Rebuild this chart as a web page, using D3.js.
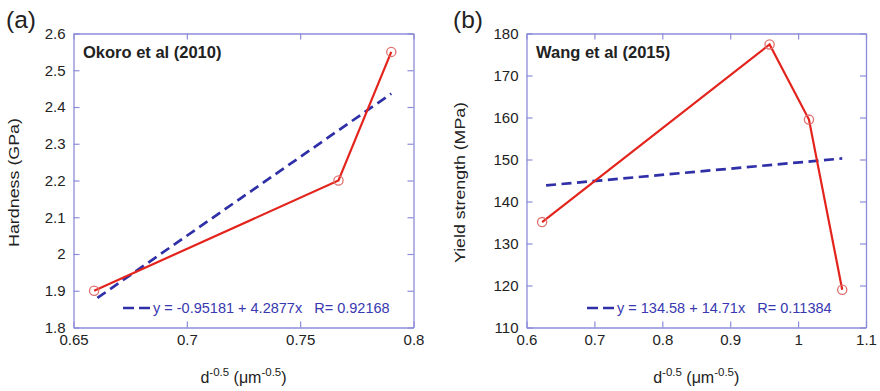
<!DOCTYPE html>
<html><head><meta charset="utf-8">
<script src="https://cdn.jsdelivr.net/npm/d3@7"></script>
<style>body{margin:0;background:#fff}svg{display:block}</style>
</head><body>
<svg id="c" width="880" height="391"></svg>
<script>
// Panel (a) data
const aX = [0.6591, 0.7669, 0.7902];
const aY = [1.90, 2.20, 2.55];
const aFit = [-0.95181, 4.2877];
const aXTicks = [0.65, 0.7, 0.75, 0.8];
const aYTicks = [1.8, 1.9, 2.0, 2.1, 2.2, 2.3, 2.4, 2.5, 2.6];
// Panel (b) data
const bX = [0.623, 0.958, 1.016, 1.065];
const bY = [135.1, 177.4, 159.5, 119.0];
const bFit = [134.58, 14.71];
const bXTicks = [0.6, 0.7, 0.8, 0.9, 1.0, 1.1];
const bYTicks = [110, 120, 130, 140, 150, 160, 170, 180];

const svg = d3.select("#c");
const AX = "#8c8cda", RED = "#e3241d", BLUE = "#2f2fa8", MK = "#e07070";
const FONT = "Liberation Sans, Arial, sans-serif";

function panel(o) {
  const g = svg.append("g");
  const x = d3.scaleLinear().domain(o.xd).range([o.l, o.r]);
  const y = d3.scaleLinear().domain(o.yd).range([o.b, o.t]);
  const tl = 6;
  const ax = [
    [d3.axisBottom(x).tickValues(o.xt).tickSizeInner(-tl).tickSizeOuter(0).tickFormat(o.xf), `translate(0,${o.b})`],
    [d3.axisTop(x).tickValues(o.xt).tickSizeInner(-tl).tickSizeOuter(0).tickFormat(""), `translate(0,${o.t})`],
    [d3.axisLeft(y).tickValues(o.yt).tickSizeInner(-tl).tickSizeOuter(0).tickFormat(o.yf), `translate(${o.l},0)`],
    [d3.axisRight(y).tickValues(o.yt).tickSizeInner(-tl).tickSizeOuter(0).tickFormat(""), `translate(${o.r},0)`]
  ];
  ax.forEach(([a, tr], i) => {
    const gg = g.append("g").attr("transform", tr).call(a);
    gg.select(".domain").attr("stroke", AX).attr("stroke-width", 1.3);
    gg.selectAll(".tick line").attr("stroke", AX).attr("stroke-width", 1.2);
    gg.selectAll(".tick text").attr("fill", "#222").attr("font-family", FONT).attr("font-size", 15);
    if (i === 0) gg.selectAll(".tick text").attr("dy", "0.95em").attr("y", 3);
    if (i === 2) gg.selectAll(".tick text").attr("x", -8);
  });
  // fit line
  const x0 = d3.min(o.xs), x1 = d3.max(o.xs);
  g.append("line")
    .attr("x1", x(x0)).attr("y1", y(o.fit[0] + o.fit[1] * x0))
    .attr("x2", x(x1)).attr("y2", y(o.fit[0] + o.fit[1] * x1))
    .attr("stroke", BLUE).attr("stroke-width", 2.7).attr("stroke-dasharray", "10,5.5").attr("stroke-dashoffset", -4);
  // data line
  const pts = o.xs.map((v, i) => [v, o.ys[i]]);
  g.append("path").attr("d", d3.line().x(d => x(d[0])).y(d => y(d[1]))(pts))
    .attr("fill", "none").attr("stroke", RED).attr("stroke-width", 2.2);
  g.selectAll("circle.m").data(pts).join("circle")
    .attr("cx", d => x(d[0])).attr("cy", d => y(d[1])).attr("r", 4.6)
    .attr("fill", "none").attr("stroke", MK).attr("stroke-width", 1.3);
  // legend
  g.append("line").attr("x1", o.lx).attr("x2", o.lx + 27).attr("y1", 308).attr("y2", 308)
    .attr("stroke", BLUE).attr("stroke-width", 2.6).attr("stroke-dasharray", "11,5");
  g.append("text").attr("x", o.lx + 30).attr("y", 312.5).attr("font-family", FONT).attr("font-size", 14.5)
    .attr("fill", "#3838b0").attr("xml:space", "preserve").text(o.leg);
  // title inside
  g.append("text").attr("x", o.l + 9.5).attr("y", 58).attr("font-family", FONT).attr("font-size", 16.5)
    .attr("font-weight", "bold").attr("fill", "#222").text(o.title);
  // panel label
  g.append("text").attr("x", o.px).attr("y", 27.5).attr("font-family", FONT).attr("font-size", 24.5)
    .attr("fill", "#222").text(o.plabel);
  // y axis title
  g.append("text").attr("transform", `translate(${o.ytx},${(o.t + o.b) / 2 + 2}) rotate(-90)`)
    .attr("text-anchor", "middle").attr("font-family", FONT).attr("font-size", 15.5).attr("fill", "#222")
    .attr("textLength", o.ytl).attr("lengthAdjust", "spacingAndGlyphs").text(o.ytitle);
  // x axis title
  const xt = g.append("text").attr("x", (o.l + o.r) / 2).attr("y", 383).attr("text-anchor", "middle")
    .attr("font-family", FONT).attr("font-size", 16).attr("fill", "#222");
  xt.append("tspan").text("d");
  xt.append("tspan").attr("dy", -7).attr("font-size", 11.5).text("-0.5");
  xt.append("tspan").attr("dy", 7).text(" (μm");
  xt.append("tspan").attr("dy", -7).attr("font-size", 11.5).text("-0.5");
  xt.append("tspan").attr("dy", 7).text(")");
}

panel({l: 73.5, r: 413.5, t: 33.5, b: 327.5, xd: [0.65, 0.8], yd: [1.8, 2.6], xt: aXTicks, yt: aYTicks,
  xf: d => String(d), yf: d => d === 2 ? "2" : d3.format(".1f")(d),
  xs: aX, ys: aY, fit: aFit, lx: 123, leg: "y = -0.95181 + 4.2877x   R= 0.92168",
  title: "Okoro et al (2010)", px: 6, plabel: "(a)", ytx: 18.5, ytl: 129, ytitle: "Hardness (GPa)"});

panel({l: 526.5, r: 866, t: 33.5, b: 327.5, xd: [0.6, 1.1], yd: [110, 180], xt: bXTicks, yt: bYTicks,
  xf: d => String(d), yf: d => String(d),
  xs: bX, ys: bY, fit: bFit, lx: 587, leg: "y = 134.58 + 14.71x   R= 0.11384",
  title: "Wang et al (2015)", px: 453, plabel: "(b)", ytx: 465, ytl: 161, ytitle: "Yield strength (MPa)"});
</script>
</body></html>
